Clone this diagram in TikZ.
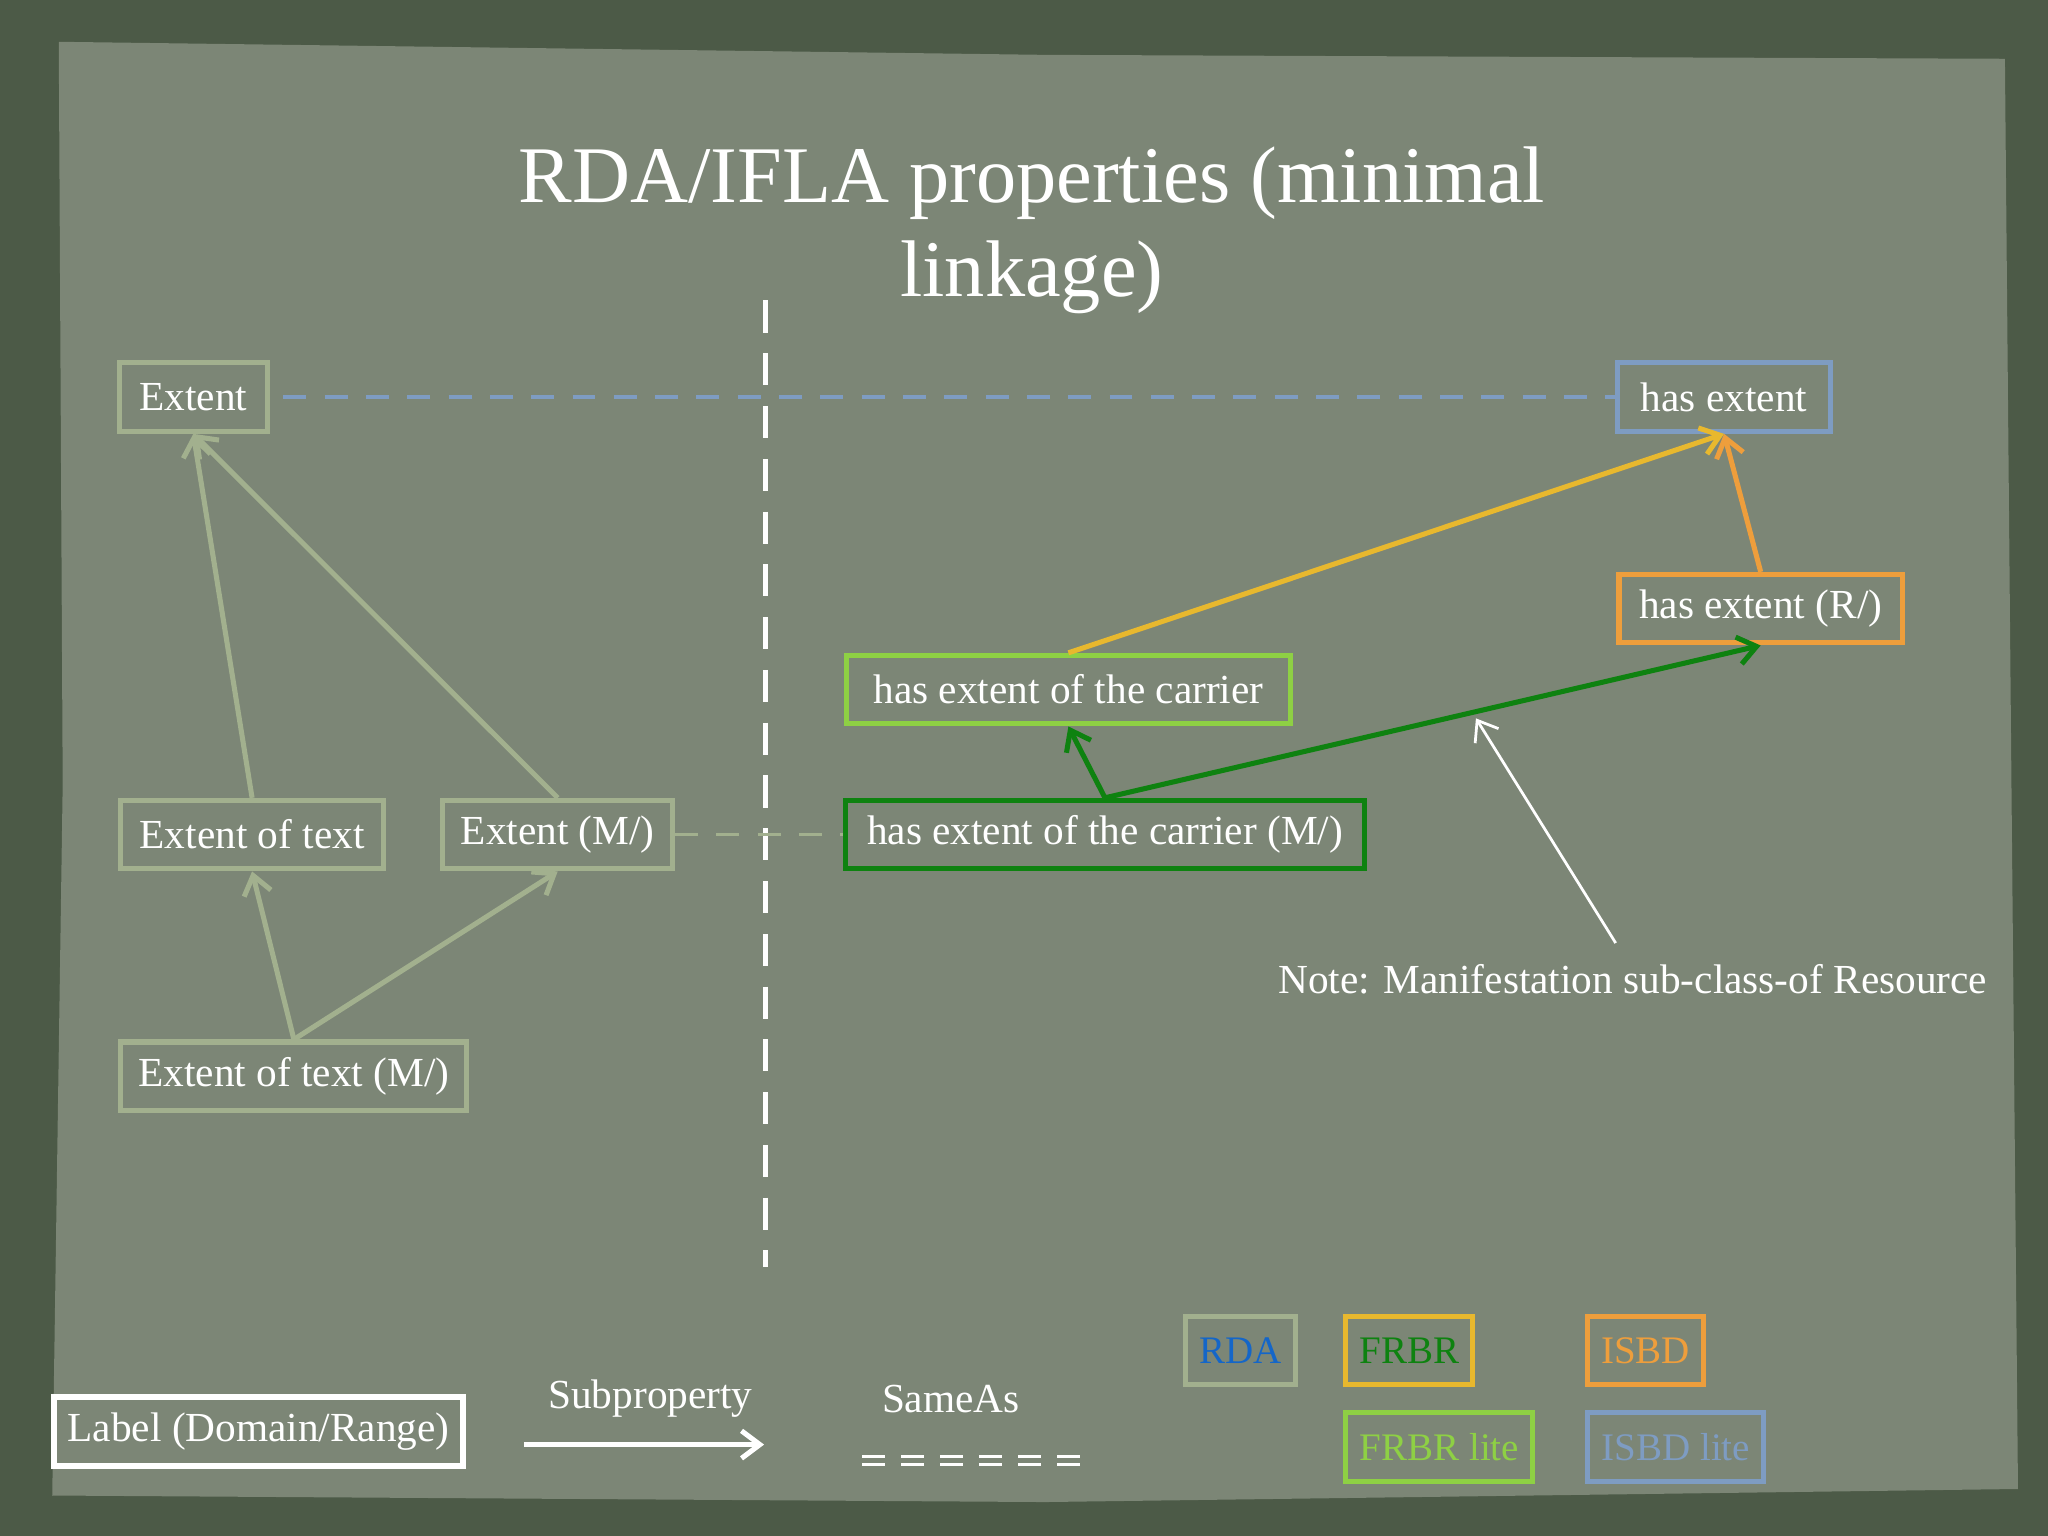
\documentclass[tikz,border=0pt]{standalone}
\usepackage{fontspec}
\setmainfont{Liberation Serif}
\begin{document}
\begin{tikzpicture}[x=0.02cm,y=-0.02cm,
  bx/.style={draw=#1,line width=2.2pt,text=white,font=\fontsize{18}{21}\selectfont,minimum height=1.05cm,inner xsep=4pt,anchor=center},
  ar/.style={draw=#1,line width=2.2pt,-{Straight Barb[length=8pt,width=12pt]}},
  lg/.style={draw=#1,line width=2.2pt,font=\fontsize{17}{20}\selectfont,minimum height=1.05cm,inner xsep=6pt}]
\usetikzlibrary{arrows.meta}
\definecolor{frame}{HTML}{4C5A47}
\definecolor{paper}{HTML}{7C8676}
\definecolor{rda}{HTML}{A2B08E}
\definecolor{frbr}{HTML}{E8B82E}
\definecolor{isbd}{HTML}{EE9E3C}
\definecolor{flite}{HTML}{8ED044}
\definecolor{ilite}{HTML}{7E9CC2}
\definecolor{dg}{HTML}{0E8210}
\definecolor{rdablue}{HTML}{1466C8}
\fill[frame] (0,0) rectangle (1568,1176);
\fill[paper] (45,32) -- (800,42) -- (1535,45) -- (1540,600) -- (1545,1140) -- (800,1150) -- (40,1145) -- (48,600) -- cycle;
\node[text=white,font=\fontsize{35}{41}\selectfont,align=center] (title) at (790,176) {RDA/IFLA properties (minimal\\linkage)};
\draw[white,line width=2.5pt,dash pattern=on 14pt off 9pt] (586,230) coordinate (v1) -- (586,970) coordinate (v2);
\node[bx=rda,minimum width=2.26cm] (ext) at (148,304) {Extent};
\node[bx=rda,minimum width=4.02cm] (eot) at (193,639) {Extent of text};
\node[bx=rda,minimum width=3.52cm] (em) at (427,639) {Extent (M/)};
\node[bx=rda,minimum width=5.3cm] (eotm) at (225,824) {Extent of text (M/)};
\node[bx=ilite,minimum width=3.26cm] (he) at (1320,304) {has extent};
\node[bx=isbd,minimum width=4.34cm] (her) at (1348,466) {has extent (R/)};
\node[bx=flite,minimum width=6.8cm] (hec) at (818,528) {has extent of the carrier};
\node[bx=dg,minimum width=7.94cm] (hecm) at (846,639) {has extent of the carrier (M/)};
\draw[ilite,line width=1.5pt,dash pattern=on 10pt off 8pt] ([xshift=6pt]ext.east) -- (he.west);
\draw[rda,line width=1.5pt,dash pattern=on 10pt off 8pt] (em.east) -- (hecm.west);
\draw[ar=rda] (eot.north) -- (ext.south);
\draw[ar=rda] (em.north) -- (ext.south);
\draw[ar=rda] (eotm.north) -- (eot.south);
\draw[ar=rda] (eotm.north) -- (em.south);
\draw[ar=frbr] (hec.north) -- (he.south);
\draw[ar=isbd] (her.north) -- (he.south);
\draw[ar=dg] (hecm.north) -- (hec.south);
\draw[ar=dg] (hecm.north) -- (her.south);
\node[text=white,font=\fontsize{18}{21}\selectfont] (note) at (1250,750) {Note: Manifestation sub-class-of Resource};
\coordinate (nt) at (1237,722);
\coordinate (nh) at (1130,550);
\draw[white,line width=1.2pt,-{Straight Barb[length=8pt,width=12pt]}] (nt) -- (nh);
% legend
\node[draw=white,line width=2.5pt,text=white,font=\fontsize{18}{21}\selectfont,minimum width=6.26cm,minimum height=1.05cm,inner xsep=2pt] (lab) at (198,1096) {Label (Domain/Range)};
\node[text=white,font=\fontsize{18}{21}\selectfont] (sub) at (498,1071) {Subproperty};
\coordinate (s1) at (401,1106); \coordinate (s2) at (585,1106);
\draw[ar=white] (s1) -- (s2);
\node[text=white,font=\fontsize{18}{21}\selectfont] (same) at (728,1071) {SameAs};
\coordinate (a1) at (660,1115); \coordinate (a2) at (832,1115);
\coordinate (b1) at (660,1121); \coordinate (b2) at (832,1121);
\draw[white,line width=1.3pt,dash pattern=on 10pt off 7pt] (a1) -- (a2);
\draw[white,line width=1.3pt,dash pattern=on 10pt off 7pt] (b1) -- (b2);
\node[lg=rda,text=rdablue] (l1) at (950,1034) {RDA};
\node[lg=frbr,text=dg] (l2) at (1079,1034) {FRBR};
\node[lg=isbd,text=isbd] (l3) at (1260,1034) {ISBD};
\node[lg=flite,text=flite] (l4) at (1102,1108) {FRBR lite};
\node[lg=ilite,text=ilite] (l5) at (1283,1108) {ISBD lite};
\end{tikzpicture}
\end{document}
